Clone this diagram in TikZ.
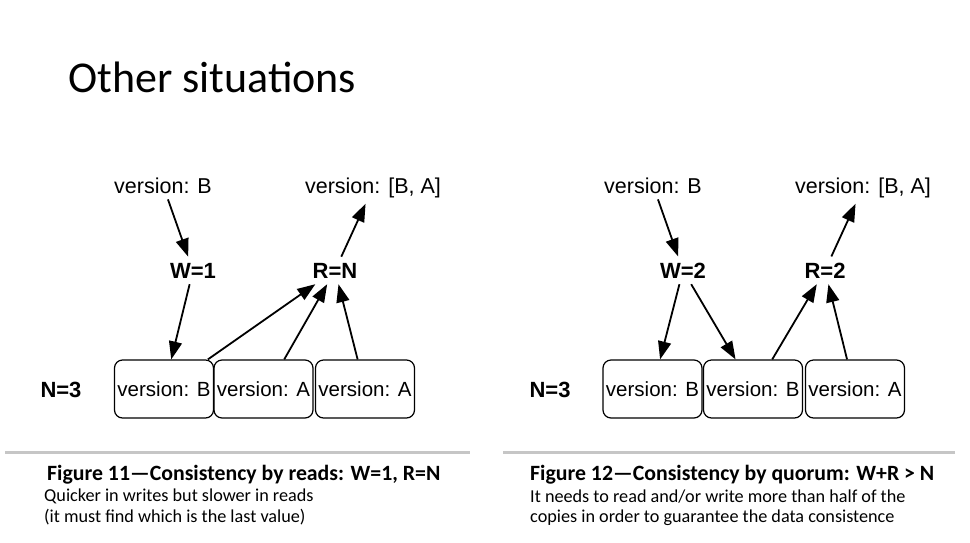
\documentclass[tikz,border=0pt]{standalone}
\usepackage{fontspec}
\setmainfont{Carlito}
\newfontfamily\helv{Liberation Sans}
\usetikzlibrary{arrows.meta,positioning}

\begin{document}
\begin{tikzpicture}[x=1pt,y=-1pt,
    ver/.style={anchor=base,inner sep=6pt,font=\helv\fontsize{21.5}{25}\selectfont},
    quo/.style={anchor=base,inner sep=6pt,font=\helv\bfseries\fontsize{22}{26}\selectfont},
    copybox/.style={draw,rectangle,rounded corners=8pt,line width=1.2pt,minimum width=99pt,minimum height=58pt,inner sep=0pt,font=\helv\fontsize{20.5}{24}\selectfont},
    arr/.style={-{Triangle[length=18pt,width=13pt]},line width=1.8pt},
    rule/.style={line width=3pt,gray!45},
    figcap/.style={anchor=base west,inner sep=0pt,font=\bfseries\fontsize{21.8}{25}\selectfont},
    note/.style={anchor=base west,inner sep=0pt,font=\fontsize{18.2}{21}\selectfont}]
    \useasboundingbox (0,0) rectangle (970,542);
    \node[anchor=base west,inner sep=0pt,font=\fontsize{44}{50}\selectfont] (title) at (68,92) {Other situations};

    % Figure 11: consistency by reads
    \path
        (163,193)   node[ver] (vb1){version: B}
        (373,193)   node[ver] (vba1){version: [B, A]}
        (193,278)   node[quo] (w1){W=1}
        (335,278)   node[quo] (rn){R=N}
        (61,397)    node[quo] (n1){N=3}
        (164,389)   node[copybox] (b11){version: B}
        (263.5,389) node[copybox] (b12){version: A}
        (365,389)   node[copybox] (b13){version: A}
        ;
    \draw [arr] (vb1)--(w1);
    \draw [arr] (w1)--(b11);
    \draw [arr] (b11.34)--(rn);
    \draw [arr] (b12.55)--(rn);
    \draw [arr] (b13.104)--(rn);
    \draw [arr] (rn)--(vba1);

    % Figure 12: consistency by quorum
    \path
        (653,193)   node[ver] (vb2){version: B}
        (863,193)   node[ver] (vba2){version: [B, A]}
        (683,278)   node[quo] (w2){W=2}
        (825,278)   node[quo] (r2){R=2}
        (550,397)   node[quo] (n2){N=3}
        (652.5,389) node[copybox] (b21){version: B}
        (753,389)   node[copybox] (b22){version: B}
        (855,389)   node[copybox] (b23){version: A}
        ;
    \draw [arr] (vb2)--(w2);
    \draw [arr] (w2)--(b21);
    \draw [arr] (w2)--(b22);
    \draw [arr] (b22.57)--(r2);
    \draw [arr] (b23.105)--(r2);
    \draw [arr] (r2)--(vba2);

    % captions
    \draw [rule] (5,452)--(470,452);
    \draw [rule] (503,452)--(955,452);
    \node[figcap] (cap1) at (47,480)  {Figure 11—Consistency by reads: W=1, R=N};
    \node[note]   (q1)   at (44,501)  {Quicker in writes but slower in reads};
    \node[note]   (q2)   at (44,522)  {(it must find which is the last value)};
    \node[figcap] (cap2) at (530,480) {Figure 12—Consistency by quorum: W+R > N};
    \node[note]   (q3)   at (530,502) {It needs to read and/or write more than half of the};
    \node[note]   (q4)   at (530,522) {copies in order to guarantee the data consistence};
\end{tikzpicture}
\end{document}
